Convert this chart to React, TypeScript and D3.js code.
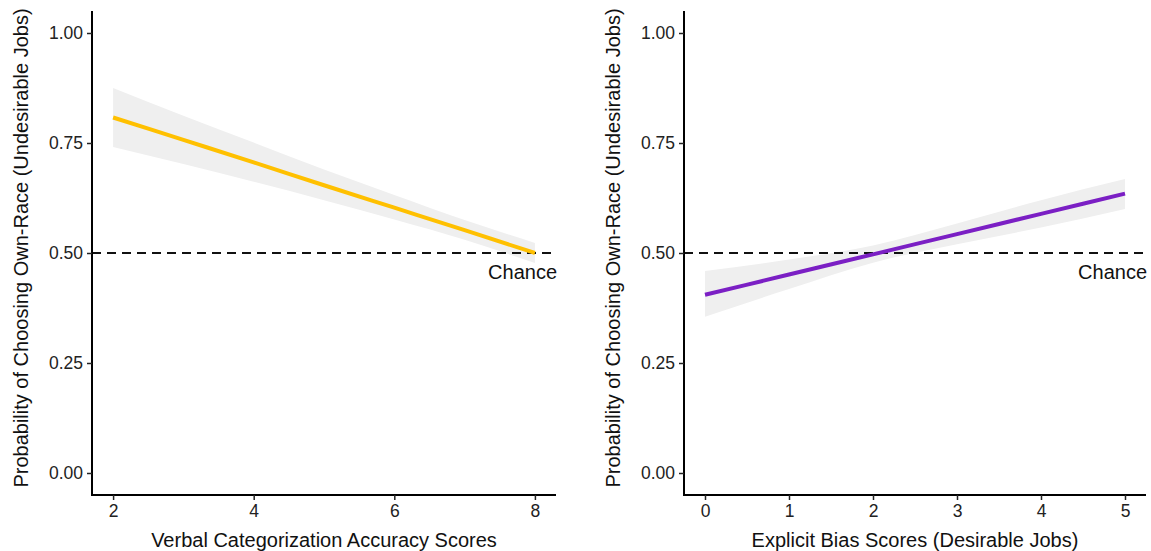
import React, { useEffect, useRef } from 'react';
import * as d3 from 'd3';

// left panel: verbal categorization accuracy
const verbalX = [2, 3, 4, 5, 6, 7, 8];
const verbalFit = [0.808, 0.757, 0.706, 0.654, 0.603, 0.552, 0.5];
const verbalLower = [0.741, 0.702, 0.662, 0.62, 0.576, 0.53, 0.477];
const verbalUpper = [0.875, 0.812, 0.751, 0.69, 0.632, 0.575, 0.523];
const verbalTicks = [2, 4, 6, 8];

// right panel: explicit bias (desirable jobs)
const biasX = [0, 1, 2, 3, 4, 5];
const biasFit = [0.405, 0.451, 0.497, 0.543, 0.589, 0.635];
const biasLower = [0.355, 0.418, 0.478, 0.52, 0.558, 0.6];
const biasUpper = [0.459, 0.485, 0.517, 0.567, 0.62, 0.668];
const biasTicks = [0, 1, 2, 3, 4, 5];

const yTicks = [0, 0.25, 0.5, 0.75, 1];
const chance = 0.5;
const yTitle = 'Probability of Choosing Own-Race (Undesirable Jobs)';

const panels = [
  {
    xs: verbalX, fit: verbalFit, lo: verbalLower, hi: verbalUpper, ticks: verbalTicks,
    domain: [2, 8], left: 92, right: 556, color: '#FFC000',
    xTitle: 'Verbal Categorization Accuracy Scores', titleX: 22
  },
  {
    xs: biasX, fit: biasFit, lo: biasLower, hi: biasUpper, ticks: biasTicks,
    domain: [0, 5], left: 684, right: 1146, color: '#7B1FC4',
    xTitle: 'Explicit Bias Scores (Desirable Jobs)', titleX: 614
  }
];

const font = 'Liberation Sans, Arial, sans-serif';

export default function App() {
  const ref = useRef<SVGSVGElement>(null);

  useEffect(() => {
    const svg = d3.select(ref.current);
    svg.selectAll('*').remove();

    const top = 11, bottom = 495;
    const y = d3.scaleLinear().domain([-0.05, 1.05]).range([bottom, top]);

    panels.forEach(p => {
      const pad = (p.domain[1] - p.domain[0]) * 0.05;
      const x = d3.scaleLinear().domain([p.domain[0] - pad, p.domain[1] + pad]).range([p.left, p.right]);
      const g = svg.append('g');

      const rows = p.xs.map((v, i) => ({ x: v, fit: p.fit[i], lo: p.lo[i], hi: p.hi[i] }));

      // confidence ribbon
      g.append('path')
        .datum(rows)
        .attr('d', d3.area<any>().x(d => x(d.x)).y0(d => y(d.lo)).y1(d => y(d.hi)).curve(d3.curveMonotoneX))
        .attr('fill', '#efefef');

      // chance line
      g.append('line')
        .attr('x1', p.left).attr('x2', p.right)
        .attr('y1', y(chance)).attr('y2', y(chance))
        .attr('stroke', '#111').attr('stroke-width', 2.2)
        .attr('stroke-dasharray', '9,6');

      // fitted line
      g.append('path')
        .datum(rows)
        .attr('d', d3.line<any>().x(d => x(d.x)).y(d => y(d.fit)).curve(d3.curveMonotoneX))
        .attr('fill', 'none')
        .attr('stroke', p.color)
        .attr('stroke-width', 4);

      g.append('text')
        .attr('x', p.right + 1).attr('y', y(chance) + 26)
        .attr('text-anchor', 'end')
        .style('font-family', font).style('font-size', '20px')
        .attr('fill', '#111')
        .text('Chance');

      // axes
      const yAxis = g.append('g')
        .attr('transform', `translate(${p.left},0)`)
        .call(d3.axisLeft(y).tickValues(yTicks).tickFormat(d3.format('.2f')).tickSize(5).tickPadding(4));
      yAxis.select('.domain').attr('d', `M0,${top}V${bottom + 1}`).attr('stroke-width', 2);

      const xAxis = g.append('g')
        .attr('transform', `translate(0,${bottom})`)
        .call(d3.axisBottom(x).tickValues(p.ticks).tickFormat(d3.format('d')).tickSize(5).tickPadding(5));
      xAxis.select('.domain').attr('d', `M${p.left - 1},0H${p.right}`).attr('stroke-width', 2);

      [yAxis, xAxis].forEach(a => {
        a.attr('font-family', font).attr('font-size', 17.5);
        a.selectAll('.tick line').attr('stroke-width', 1.5).attr('stroke', '#222');
        a.selectAll('.tick text')
          .style('font-family', font).style('font-size', '17.5px').attr('fill', '#222');
      });

      g.append('text')
        .attr('x', (p.left + p.right) / 2).attr('y', 547)
        .attr('text-anchor', 'middle')
        .style('font-family', font).style('font-size', '20px')
        .attr('fill', '#111')
        .text(p.xTitle);

      g.append('text')
        .attr('transform', `translate(${p.titleX + 6},${(top + bottom) / 2 - 5}) rotate(-90)`)
        .attr('text-anchor', 'middle')
        .style('font-family', font).style('font-size', '20px')
        .attr('fill', '#111')
        .text(yTitle);
    });
  }, []);

  return (
    <svg ref={ref} width={1151} height={551}
      style={{ position: 'absolute', left: 0, top: 0, background: '#fff' }} />
  );
}
